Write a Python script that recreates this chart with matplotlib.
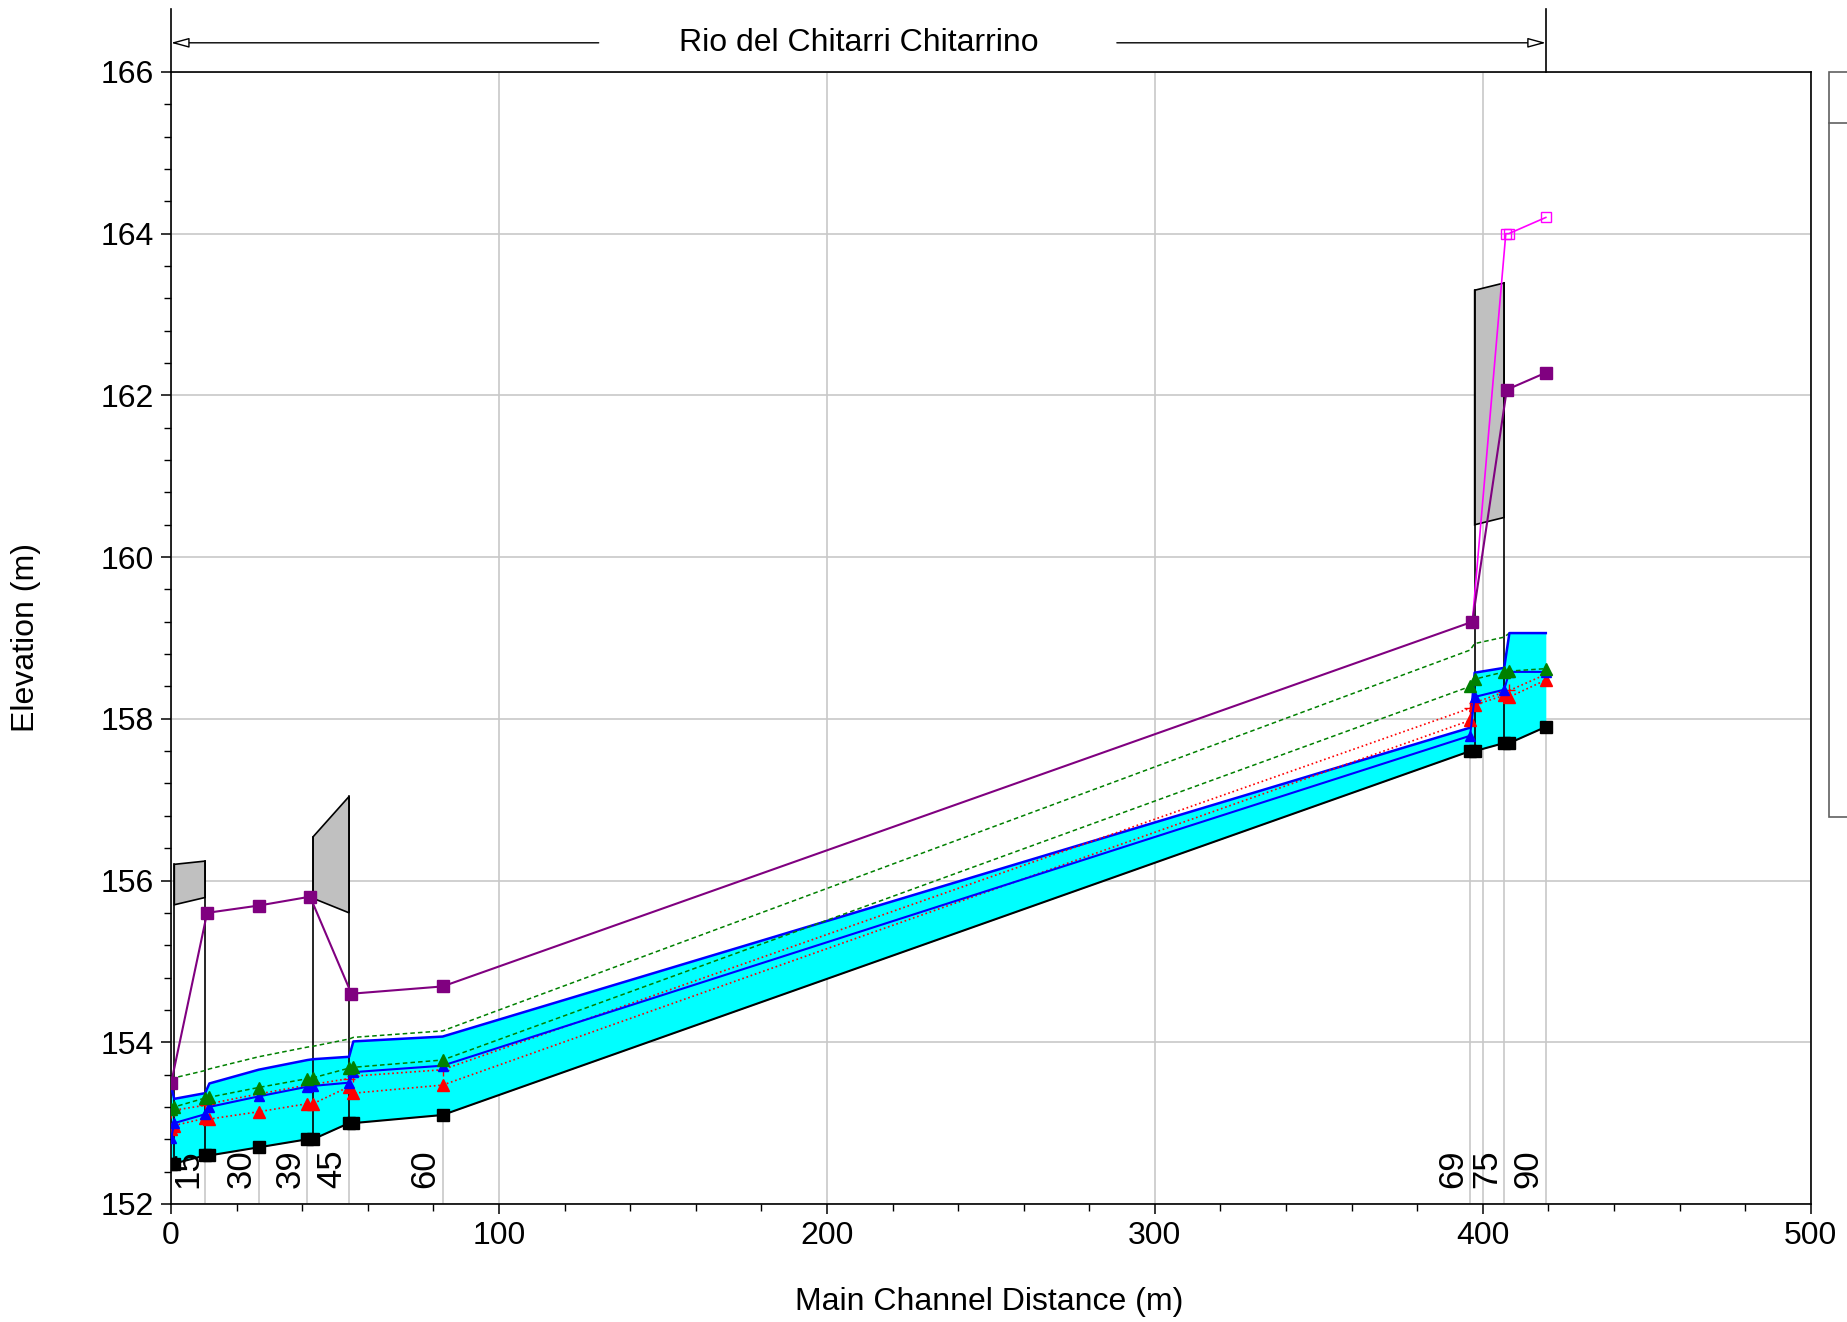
import matplotlib
matplotlib.use("Agg")
import matplotlib.pyplot as plt
from matplotlib.patches import Rectangle, Polygon
from matplotlib.ticker import MultipleLocator
import numpy as np

plt.rcParams['font.family'] = ['Liberation Sans', 'DejaVu Sans']

# main channel distance of each cross section / bridge face (m)
stations = [0, 1.0, 10.4, 11.7, 26.7, 41.6, 43.3, 54.3, 55.6, 82.8, 396.1, 397.5, 406.5, 408.1, 419.2]
ground = [152.50, 152.50, 152.60, 152.60, 152.70, 152.80, 152.80, 153.00, 153.00, 153.10, 157.60, 157.60, 157.70, 157.70, 157.90]
ws_pf2 = [153.45, 153.30, 153.37, 153.49, 153.66, 153.78, 153.79, 153.82, 154.01, 154.07, 157.89, 158.57, 158.63, 159.06, 159.06]
ws_pf1 = [152.81, 153.00, 153.11, 153.20, 153.33, 153.45, 153.46, 153.50, 153.63, 153.71, 157.79, 158.27, 158.36, 158.58, 158.58]
eg_pf2 = [153.54, 153.56, 153.65, 153.67, 153.82, 153.94, 153.95, 154.04, 154.06, 154.14, 158.85, 158.93, 159.01, 159.06, 159.06]
eg_pf1 = [153.18, 153.20, 153.31, 153.32, 153.44, 153.55, 153.56, 153.68, 153.69, 153.78, 158.40, 158.49, 158.58, 158.59, 158.62]
crit_pf2 = [153.14, 153.16, 153.22, 153.24, 153.36, 153.47, 153.48, 153.55, 153.58, 153.66, 158.13, 158.20, 158.33, 158.35, 158.55]
crit_pf1 = [152.93, 152.97, 153.06, 153.05, 153.14, 153.24, 153.24, 153.45, 153.37, 153.47, 157.98, 158.17, 158.29, 158.27, 158.48]

# levee / bank lines
lob_x = [0, 11.0, 26.7, 42.4, 55.0, 82.8, 396.8, 407.3, 419.2]
lob_elev = [153.49, 155.60, 155.69, 155.80, 154.60, 154.69, 159.20, 162.07, 162.28]
rob_x = [396.8, 407.0, 407.9, 419.2]
rob_elev = [159.20, 164.00, 164.00, 164.20]

# bridges: left face / right face
bridge_left = [1.0, 43.3, 397.5]
bridge_right = [10.4, 54.3, 406.5]
low_chord_left = [155.70, 155.78, 160.40]
low_chord_right = [155.79, 155.60, 160.49]
high_chord_left = [156.20, 156.54, 163.30]
high_chord_right = [156.24, 157.04, 163.39]

# river station labels
label_x = [10.4, 26.7, 41.6, 54.3, 82.8, 396.1, 406.5, 419.2]
label_text = ['15', '30', '39', '45', '60', '69', '75', '90']

reach_name = 'Rio del Chitarri Chitarrino'
reach_end = 419.2

FS = 23


def main():
    fig = plt.figure(figsize=(18.47, 13.22), dpi=100)
    ax = fig.add_axes([0.0926, 0.0893, 0.8878, 0.8563])

    ax.set_xlim(0, 500)
    ax.set_ylim(152, 166)
    ax.xaxis.set_major_locator(MultipleLocator(100))
    ax.xaxis.set_minor_locator(MultipleLocator(20))
    ax.yaxis.set_major_locator(MultipleLocator(2))
    ax.yaxis.set_minor_locator(MultipleLocator(0.4))
    ax.grid(True, which='major', color='#c8c8c8', lw=1.2, zorder=0)
    ax.set_axisbelow(True)
    ax.tick_params(which='major', length=7, width=1.1, labelsize=FS, pad=5)
    ax.tick_params(which='minor', length=5, width=1.0)
    for s in ax.spines.values():
        s.set_linewidth(1.2)

    # station lines from axis bottom to the bed
    bed_at = np.interp(label_x, stations, ground)
    for x, b, t in zip(label_x, bed_at, label_text):
        ax.plot([x, x], [152, b], color='#c8c8c8', lw=1.2, zorder=1)
        ax.text(x - 0.3, 152.2, t, rotation=90, ha='right', va='bottom', fontsize=25, zorder=6)

    ax.fill_between(stations, ground, ws_pf2, color='#00ffff', lw=0, zorder=2)

    for i in range(len(bridge_left)):
        xl, xr = bridge_left[i], bridge_right[i]
        deck = Polygon([(xl, low_chord_left[i]), (xl, high_chord_left[i]),
                        (xr, high_chord_right[i]), (xr, low_chord_right[i])],
                       closed=True, fc='#c0c0c0', ec='black', lw=1.2, zorder=3)
        ax.add_patch(deck)
        ax.plot([xl, xl], [np.interp(xl, stations, ground), high_chord_left[i]], color='black', lw=1.2, zorder=3)
        ax.plot([xr, xr], [np.interp(xr, stations, ground), high_chord_right[i]], color='black', lw=1.2, zorder=3)

    ax.plot(stations, eg_pf2, color='#008000', ls=(0, (3, 2)), lw=1.1, zorder=4)
    ax.plot(stations, ws_pf2, color='#0000ff', lw=1.8, zorder=4)
    ax.plot(stations, crit_pf2, color='#ff0000', ls=':', lw=1.2, marker='+', ms=8, zorder=4)
    ax.plot(stations, crit_pf1, color='#ff0000', ls=':', lw=1.2, marker='^', ms=8.5, zorder=4)
    ax.plot(stations, ws_pf1, color='#0000ff', lw=1.5, marker='^', ms=7.5, zorder=4)
    ax.plot(stations, eg_pf1, color='#008000', ls=(0, (3, 2)), lw=1.1, marker='^', ms=8.5, zorder=4)
    ax.plot(stations, ground, color='black', lw=1.5, marker='s', ms=8, zorder=5)
    ax.plot(rob_x, rob_elev, color='#ff00ff', lw=1.2, marker='s', ms=7.5, mfc='none', mec='#ff00ff', zorder=5)
    ax.plot(lob_x, lob_elev, color='#800080', lw=1.5, marker='s', ms=8.5, zorder=5)

    # reach annotation above the plot
    ytop = 166.78
    yarr = 166.36
    ax.plot([0, 0], [166, ytop], color='black', lw=1.2, clip_on=False)
    ax.plot([reach_end, reach_end], [166, ytop], color='black', lw=1.2, clip_on=False)
    arrow = dict(arrowstyle='-|>,head_length=1.1,head_width=0.3', fc='white', ec='black', lw=1.0,
                 shrinkA=0, shrinkB=0)
    ax.annotate('', xy=(0, yarr), xytext=(130.4, yarr), arrowprops=arrow, annotation_clip=False)
    ax.annotate('', xy=(reach_end, yarr), xytext=(288.4, yarr), arrowprops=arrow, annotation_clip=False)
    ax.text(reach_end / 2, yarr, reach_name, ha='center', va='center', fontsize=FS, clip_on=False)

    fig.text(840 / 1568, 1 - 1302 / 1322, 'Main Channel Distance (m)', ha='center', va='center', fontsize=FS)
    fig.text(26 / 1847, 1 - 637 / 1322, 'Elevation (m)', ha='center', va='center', rotation=90, fontsize=FS)

    # legend box cut off at right edge
    fig.patches.append(Rectangle((1829 / 1847, 1 - 817 / 1322), 0.05, (817 - 72) / 1322,
                                 transform=fig.transFigure, fc='white', ec='#606060', lw=1.2))
    fig.lines.append(plt.Line2D([1829 / 1847, 1.0], [1 - 123 / 1322] * 2, transform=fig.transFigure,
                                color='#606060', lw=1.2))

    fig.savefig('out.png', dpi=100)
    plt.close(fig)


if __name__ == "__main__":
    main()
